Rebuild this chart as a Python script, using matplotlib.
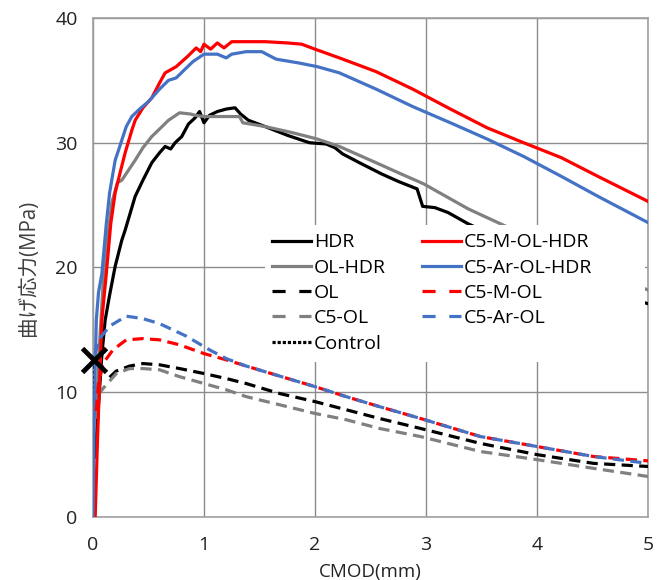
import matplotlib
matplotlib.use("Agg")
import matplotlib.pyplot as plt
from matplotlib.patches import Rectangle

# curves (CMOD in mm, stress in MPa)
hdr_x = [0.02, 0.05, 0.08, 0.11, 0.15, 0.2, 0.26, 0.29, 0.33, 0.38, 0.45, 0.53, 0.6, 0.65,
         0.7, 0.74, 0.8, 0.86, 0.92, 0.96, 1.0, 1.05, 1.12, 1.2, 1.28, 1.33, 1.4, 1.55, 1.75,
         1.95, 2.1, 2.18, 2.25, 2.4, 2.6, 2.75, 2.92, 2.97, 3.08, 3.2, 3.38, 3.6, 3.9, 4.2,
         4.5, 4.8, 5.0]
hdr_y = [4.8, 9.0, 13.0, 15.8, 17.8, 20.1, 22.2, 23.0, 24.2, 25.7, 27.0, 28.4, 29.2, 29.7,
         29.5, 30.0, 30.5, 31.5, 32.0, 32.5, 31.6, 32.2, 32.5, 32.7, 32.8, 32.3, 31.8, 31.3,
         30.6, 30.0, 29.9, 29.6, 29.1, 28.4, 27.5, 26.9, 26.3, 24.9, 24.8, 24.4, 23.5, 22.6,
         21.3, 20.0, 18.8, 17.6, 17.1]

olhdr_x = [0.03, 0.06, 0.1, 0.17, 0.22, 0.26, 0.38, 0.45, 0.53, 0.6, 0.68, 0.78, 0.88, 0.92,
           1.0, 1.15, 1.32, 1.35, 1.55, 1.8, 2.02, 2.22, 2.55, 2.75, 2.98, 3.2, 3.38, 3.55,
           3.72, 4.0, 4.3, 4.6, 5.0]
olhdr_y = [8.0, 14.0, 20.0, 25.2, 26.8, 27.0, 28.6, 29.6, 30.5, 31.1, 31.8, 32.4, 32.3, 32.2,
           32.1, 32.1, 32.1, 31.6, 31.3, 30.8, 30.3, 29.7, 28.4, 27.6, 26.7, 25.6, 24.7, 24.0,
           23.3, 22.0, 20.7, 19.5, 18.2]

mhdr_x = [0.02, 0.04, 0.06, 0.08, 0.12, 0.16, 0.2, 0.25, 0.29, 0.35, 0.38, 0.45, 0.53, 0.6,
          0.65, 0.75, 0.85, 0.93, 0.97, 1.0, 1.06, 1.12, 1.18, 1.25, 1.4, 1.55, 1.75, 1.88,
          2.0, 2.22, 2.55, 2.88, 3.22, 3.55, 3.88, 4.22, 4.55, 5.0]
mhdr_y = [0.0, 6.0, 11.0, 15.8, 19.5, 23.5, 26.0, 27.8, 29.2, 31.0, 31.8, 32.8, 33.6, 34.8,
          35.6, 36.1, 36.9, 37.6, 37.3, 37.9, 37.5, 38.0, 37.6, 38.1, 38.1, 38.1, 38.0, 37.9,
          37.5, 36.8, 35.7, 34.3, 32.7, 31.2, 30.0, 28.8, 27.3, 25.3]

arhdr_x = [0.0, 0.01, 0.02, 0.03, 0.05, 0.08, 0.12, 0.15, 0.2, 0.23, 0.3, 0.35, 0.42, 0.5,
           0.6, 0.68, 0.75, 0.83, 0.9, 1.0, 1.12, 1.2, 1.25, 1.38, 1.52, 1.65, 1.85, 2.02,
           2.22, 2.55, 2.88, 3.22, 3.55, 3.88, 4.22, 4.55, 5.0]
arhdr_y = [0.0, 7.0, 12.0, 15.8, 18.0, 19.5, 23.5, 26.0, 28.6, 29.4, 31.3, 32.1, 32.7, 33.3,
           34.3, 35.0, 35.2, 35.9, 36.5, 37.1, 37.1, 36.8, 37.1, 37.3, 37.3, 36.7, 36.4, 36.1,
           35.6, 34.3, 32.9, 31.6, 30.3, 28.9, 27.3, 25.7, 23.6]

ol_x = [0.15, 0.21, 0.33, 0.45, 0.6, 0.78, 1.0, 1.2, 1.38, 1.68, 2.0, 2.28, 2.58, 2.95, 3.49,
        4.0, 4.51, 5.0]
ol_y = [11.2, 11.7, 12.1, 12.3, 12.2, 11.9, 11.5, 11.1, 10.7, 9.9, 9.25, 8.6, 7.9, 7.1, 5.9,
        5.0, 4.3, 4.05]

c5ol_x = [0.05, 0.09, 0.21, 0.33, 0.45, 0.6, 0.78, 1.0, 1.2, 1.38, 1.68, 2.0, 2.28, 2.58,
          2.95, 3.49, 4.0, 4.51, 5.0]
c5ol_y = [9.8, 10.3, 11.5, 11.9, 11.9, 11.8, 11.25, 10.7, 10.2, 9.65, 9.0, 8.3, 7.8, 7.1,
          6.45, 5.25, 4.6, 3.9, 3.25]

mol_x = [0.03, 0.05, 0.09, 0.18, 0.3, 0.45, 0.6, 0.78, 1.0, 1.2, 1.38, 1.68, 2.0, 2.28, 2.58,
         2.95, 3.49, 4.0, 4.51, 5.0]
mol_y = [8.5, 10.7, 12.3, 13.4, 14.2, 14.3, 14.2, 13.8, 13.1, 12.6, 12.1, 11.3, 10.45, 9.65,
         8.85, 7.9, 6.45, 5.65, 4.85, 4.5]

arol_x = [0.02, 0.05, 0.15, 0.3, 0.45, 0.6, 0.84, 1.05, 1.2, 1.38, 1.68, 2.0, 2.28, 2.58,
          2.95, 3.49, 4.0, 4.51, 5.0]
arol_y = [13.0, 14.2, 15.3, 16.1, 15.9, 15.5, 14.5, 13.4, 12.7, 12.1, 11.3, 10.45, 9.65, 8.85,
          7.9, 6.45, 5.65, 4.85, 4.3]

control_x = [0.0, 0.005]
control_y = [0.0, 12.6]

x_ticks = [0, 1, 2, 3, 4, 5]
y_ticks = [0, 10, 20, 30, 40]

plt.rcParams['font.family'] = ['Open Sans', 'Noto Sans CJK JP', 'DejaVu Sans']

fig = plt.figure(figsize=(6.67, 5.8), dpi=100)
ax = fig.add_axes([0.1394, 0.1086, 0.8321, 0.8604])

lw = 2.3
dash = (3.5, 2.0)
ax.plot(hdr_x, hdr_y, color='black', lw=lw, label='HDR', zorder=3)
ax.plot(olhdr_x, olhdr_y, color='#808080', lw=lw, label='OL-HDR', zorder=3)
ax.plot(ol_x, ol_y, color='black', lw=lw, dashes=dash, label='OL', zorder=3)
ax.plot(c5ol_x, c5ol_y, color='#808080', lw=lw, dashes=dash, label='C5-OL', zorder=3)
ax.plot(control_x, control_y, color='black', lw=lw, dashes=(1, 0.6), label='Control', zorder=3)
ax.plot(mhdr_x, mhdr_y, color='#FF0000', lw=lw, label='C5-M-OL-HDR', zorder=3)
ax.plot(arhdr_x, arhdr_y, color='#4472C4', lw=lw, label='C5-Ar-OL-HDR', zorder=3)
ax.plot(mol_x, mol_y, color='#FF0000', lw=lw, dashes=dash, label='C5-M-OL', zorder=3)
ax.plot(arol_x, arol_y, color='#4472C4', lw=lw, dashes=dash, label='C5-Ar-OL', zorder=3)
# failure point of the control specimen
ax.plot(control_x[-1:], control_y[-1:], 'x', color='black', ms=17, mew=3.5,
        label='_nolegend_', zorder=4, clip_on=False)

ax.set_xlim(0, 5)
ax.set_ylim(0, 40)
ax.set_xticks(x_ticks)
ax.set_yticks(y_ticks)
ax.tick_params(length=0, labelsize=14, labelcolor='#222222')
ax.tick_params(axis='x', pad=14)
ax.tick_params(axis='y', pad=11)
ax.grid(True, color='#8c8c8c', lw=1)
ax.set_axisbelow(True)
for s in ax.spines.values():
    s.set_color('#a0a0a0')
    s.set_linewidth(1.2)

ax.set_xlabel('CMOD(mm)', fontsize=13.5, labelpad=6, color='#222222')
ax.set_ylabel('曲げ応力(MPa)', fontsize=14.8, labelpad=12, color='#404040')

# white plot-area box behind the legend, like the spreadsheet legend
ax.add_patch(Rectangle((0.31, 0.3106), 0.685, 0.2745, transform=ax.transAxes,
                       facecolor='white', edgecolor='none', zorder=4.5))

leg = ax.legend(ncol=2, loc='upper left', bbox_to_anchor=(0.312, 0.58), fontsize=14,
                frameon=False, handlelength=2.0, handletextpad=0.15, columnspacing=1.85,
                labelspacing=0.375, borderpad=0.3, borderaxespad=0)
leg.set_zorder(5)
# legend keys of the dashed series show a two-dash pattern
for h, t in zip(leg.get_lines(), leg.get_texts()):
    if t.get_text() in ('OL', 'C5-OL', 'C5-M-OL', 'C5-Ar-OL'):
        h.set_dashes((4.1, 4.3))

fig.savefig('out.png', dpi=100)
